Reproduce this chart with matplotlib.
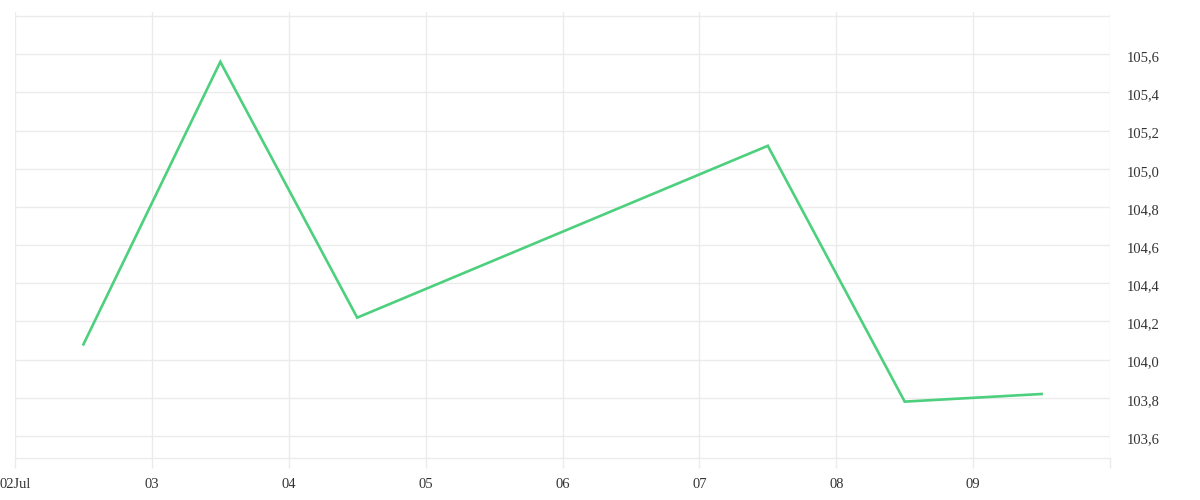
import matplotlib
matplotlib.use("Agg")
import matplotlib.pyplot as plt
import matplotlib.dates as mdates
import matplotlib.ticker as mticker
import matplotlib.transforms as mtransforms
import numpy as np
import datetime as dt

# Data
dates = ["2024-07-02 12:00", "2024-07-03 12:00", "2024-07-04 12:00",
         "2024-07-07 12:00", "2024-07-08 12:00", "2024-07-09 12:00"]
values = [104.08, 105.56, 104.22, 105.12, 103.78, 103.82]
y_ticks = [103.6, 103.8, 104.0, 104.2, 104.4, 104.6, 104.8, 105.0, 105.2, 105.4, 105.6, 105.8]
x_start = "2024-07-02"
x_end = "2024-07-10"

line_color = "#4cd07d"
grid_color = "#ebebeb"
text_color = "#333333"

plt.rcParams['font.family'] = ['Liberation Serif', 'DejaVu Serif']

fig = plt.figure(figsize=(12, 5), dpi=100)
W, H = 1200, 500
ax = fig.add_axes([15 / W, (H - 458) / H, (1110 - 15) / W, (458 - 12) / H])

x = [dt.datetime.strptime(d, "%Y-%m-%d %H:%M") for d in dates]
ax.plot(x, values, color=line_color, linewidth=1.9, solid_joinstyle='miter', zorder=3)

x0 = dt.datetime.strptime(x_start, "%Y-%m-%d")
x1 = dt.datetime.strptime(x_end, "%Y-%m-%d")
ax.set_xlim(x0, x1)
ax.set_ylim(103.6 - 22 / 190.85, 105.8 + 4 / 190.85)

ax.xaxis.set_major_locator(mdates.DayLocator())
def xfmt(v, pos):
    d = mdates.num2date(v)
    if d.day == 2:
        return d.strftime("%d") + "Jul"
    if d.day == 10:
        return ""
    return d.strftime("%d")
ax.xaxis.set_major_formatter(mticker.FuncFormatter(xfmt))

ax.yaxis.tick_right()
ax.set_yticks(y_ticks)
def yfmt(v, pos):
    if v > 105.7:
        return ""
    return f"{v:.1f}".replace(".", ",")
ax.yaxis.set_major_formatter(mticker.FuncFormatter(yfmt))

ax.grid(True, color=grid_color, linewidth=1.0, zorder=0)
for s in ["top", "left", "right"]:
    ax.spines[s].set_visible(False)
ax.spines["bottom"].set_color(grid_color)
ax.spines["bottom"].set_linewidth(1.0)

ax.tick_params(axis='x', length=7.2, width=1.0, color=grid_color, labelsize=10.5,
               labelcolor=text_color, pad=7.5)
ax.tick_params(axis='y', length=0, labelsize=10.5, labelcolor=text_color, pad=12.2)
offset = mtransforms.ScaledTranslation(0, -2 / 100, fig.dpi_scale_trans)
for lbl in ax.get_yticklabels():
    lbl.set_transform(lbl.get_transform() + offset)

fig.savefig("out.png", dpi=100, facecolor="white")
